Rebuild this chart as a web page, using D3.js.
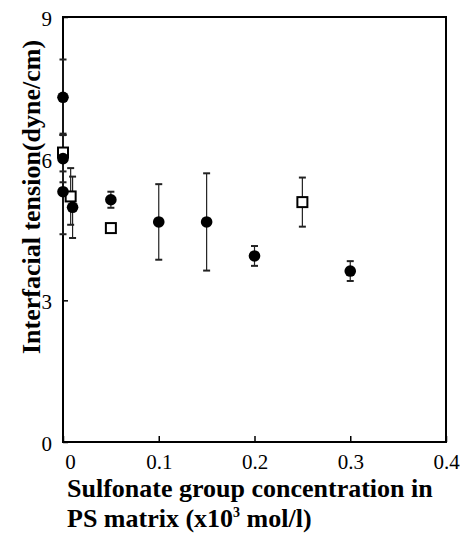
<!DOCTYPE html>
<html>
<head>
<meta charset="utf-8">
<script src="https://cdn.jsdelivr.net/npm/d3@7"></script>
<style>
  body { margin: 0; background: #fff; }
  svg { display: block; }
  text { font-family: "Liberation Serif", "Times New Roman", serif; fill: #000; }
</style>
</head>
<body>
<svg id="chart" width="460" height="533"></svg>
<script>
// filled circles
const circleX = [0, 0, 0, 0.01, 0.05, 0.1, 0.15, 0.2, 0.3];
const circleY = [7.3, 6.0, 5.3, 4.97, 5.13, 4.66, 4.66, 3.94, 3.62];
const circleErr = [0.8, 0.5, 0.9, 0.65, 0.17, 0.8, 1.03, 0.21, 0.21];
// open squares
const squareX = [0, 0.008, 0.05, 0.25];
const squareY = [6.13, 5.2, 4.53, 5.08];
const squareErr = [0.4, 0.6, 0, 0.52];

const xTicks = [0, 0.1, 0.2, 0.3, 0.4];
const yTicks = [0, 3, 6, 9];

const margin = {top: 17, right: 14, bottom: 91, left: 63};
const svg = d3.select("#chart");
const width = 460 - margin.left - margin.right;
const height = 533 - margin.top - margin.bottom;

const x = d3.scaleLinear().domain([0, 0.4]).range([0, width]);
const y = d3.scaleLinear().domain([0, 9]).range([height, 0]);

const focus = svg.append("g")
    .attr("transform", "translate(" + margin.left + "," + margin.top + ")");

// axes (inward ticks)
focus.append("g")
    .attr("transform", "translate(0," + height + ")")
    .call(d3.axisBottom(x).tickValues(xTicks).tickSize(-6).tickPadding(12)
        .tickFormat(d => d === 0 ? "0" : d3.format(".1f")(d)))
    .call(g => g.select(".domain").remove())
    .call(g => g.selectAll("text").attr("font-size", 21)
        .attr("dx", d => d === 0 ? 7 : 0));

focus.append("g")
    .call(d3.axisLeft(y).tickValues(yTicks).tickSize(-5).tickPadding(11))
    .call(g => g.select(".domain").remove())
    .call(g => g.selectAll("text").attr("font-size", 21).attr("dy", "0.4em"));

focus.selectAll(".tick line").attr("stroke", "#000").attr("stroke-width", 1.5);

// frame
focus.append("rect")
    .attr("width", width).attr("height", height)
    .attr("fill", "none").attr("stroke", "#000").attr("stroke-width", 2);

// error bars
function errorBars(xs, ys, es) {
  const d = xs.map((v, i) => ({x: v, y: ys[i], e: es[i]})).filter(p => p.e > 0);
  const g = focus.append("g").attr("stroke", "#222").attr("stroke-width", 1.2);
  g.selectAll(".v").data(d).join("line")
      .attr("x1", p => x(p.x)).attr("x2", p => x(p.x))
      .attr("y1", p => y(p.y + p.e)).attr("y2", p => y(p.y - p.e));
  [1, -1].forEach(s => {
    g.selectAll(".c" + s).data(d).join("line")
        .attr("x1", p => x(p.x) - 3.5).attr("x2", p => x(p.x) + 3.5)
        .attr("y1", p => y(p.y + s * p.e)).attr("y2", p => y(p.y + s * p.e))
        .attr("stroke-width", 2);
  });
}
errorBars(squareX, squareY, squareErr);
errorBars(circleX, circleY, circleErr);

// squares
focus.selectAll(".sq").data(squareX).join("rect")
    .attr("x", (d, i) => x(d) - 5).attr("y", (d, i) => y(squareY[i]) - 5)
    .attr("width", 10).attr("height", 10)
    .attr("fill", "#fff").attr("stroke", "#000").attr("stroke-width", 2);

// circles
focus.selectAll(".ci").data(circleX).join("circle")
    .attr("cx", d => x(d)).attr("cy", (d, i) => y(circleY[i]))
    .attr("r", 5.8).attr("fill", "#000");

// axis titles
svg.append("text")
    .attr("transform", "translate(31,197) rotate(-90)")
    .attr("dy", "0.35em")
    .attr("text-anchor", "middle")
    .attr("font-size", 26).attr("font-weight", "bold")
    .text("Interfacial tension(dyne/cm)");

const xt = svg.append("text")
    .attr("x", 67).attr("y", 497)
    .attr("font-size", 26).attr("font-weight", "bold");
xt.append("tspan").text("Sulfonate group concentration in");
const l2 = svg.append("text")
    .attr("x", 67).attr("y", 527)
    .attr("font-size", 26).attr("font-weight", "bold");
l2.append("tspan").text("PS matrix (x10");
l2.append("tspan").attr("dy", -10).attr("font-size", 14).text("3");
l2.append("tspan").attr("dy", 10).text(" mol/l)");
</script>
</body>
</html>
